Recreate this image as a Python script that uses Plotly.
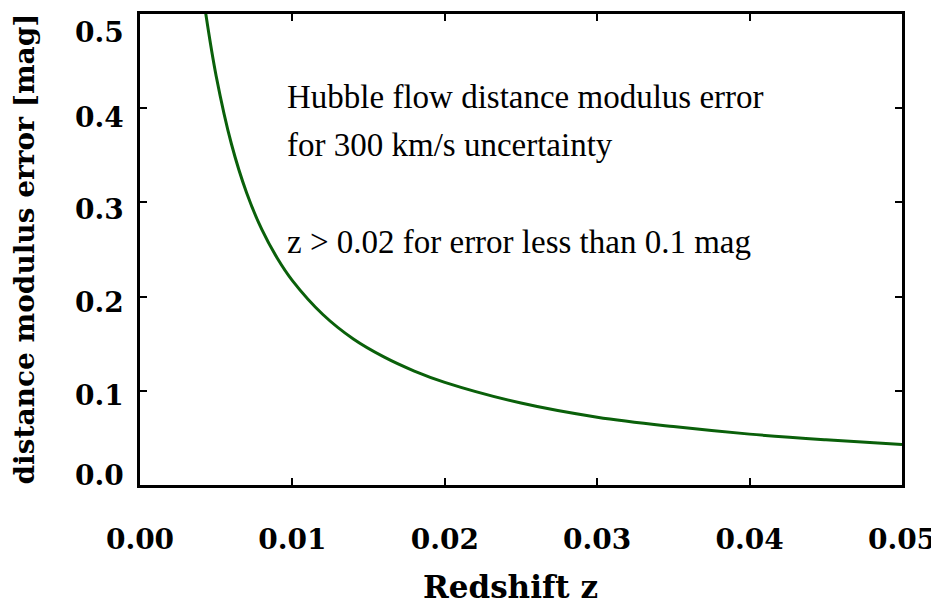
import plotly.graph_objects as go

# Hubble-flow distance modulus error versus redshift (300 km/s peculiar velocity)
redshift = [0.0043, 0.0050, 0.0060, 0.0070, 0.0080, 0.0090, 0.0100, 0.0120,
            0.0140, 0.0160, 0.0180, 0.0200, 0.0250, 0.0300, 0.0350, 0.0400,
            0.0450, 0.0500]
mu_error = [0.502, 0.434, 0.362, 0.310, 0.271, 0.241, 0.217, 0.181,
            0.155, 0.136, 0.121, 0.109, 0.087, 0.072, 0.062, 0.054,
            0.048, 0.043]

x_ticks = [0.00, 0.01, 0.02, 0.03, 0.04, 0.05]
x_tick_text = ["0.00", "0.01", "0.02", "0.03", "0.04", "0.05"]
y_ticks = [0.0, 0.1, 0.2, 0.3, 0.4, 0.5]
y_tick_text = ["0.0", "0.1", "0.2", "0.3", "0.4", "0.5"]

note_lines = [
    ("Hubble flow distance modulus error", 0.412),
    ("for 300 km/s uncertainty", 0.361),
    ("z > 0.02 for error less than 0.1 mag", 0.258),
]

label_font = "DejaVu Serif"
note_font = "Liberation Serif"
tick_font = dict(family=label_font, size=28, color="black", weight="bold")

# vertical nudges (px) keeping the end labels inside the frame height
y_label_shift = [10, -5, -6, -7, -9, -18]

fig = go.Figure()
fig.add_trace(go.Scatter(
    x=redshift, y=mu_error, mode="lines",
    line=dict(color="#0a600a", width=3, shape="spline", smoothing=1.0),
    showlegend=False, hoverinfo="skip", cliponaxis=True,
))

axis_common = dict(
    showline=True, linecolor="black", linewidth=3, mirror="ticks",
    ticks="inside", ticklen=7, tickwidth=2, tickcolor="black",
    showgrid=False, zeroline=False, ticklabeloverflow="allow",
    automargin=False, tickfont=tick_font,
)

fig.update_xaxes(range=[0, 0.05], tickvals=x_ticks, ticktext=x_tick_text,
                 ticklabelstandoff=27, **axis_common)
fig.update_yaxes(range=[0, 0.5], tickvals=y_ticks, showticklabels=False,
                 **axis_common)

for val, txt, dy in zip(y_ticks, y_tick_text, y_label_shift):
    fig.add_annotation(x=0, y=val, xref="paper", yref="y", text=txt,
                       showarrow=False, xanchor="right", yanchor="middle",
                       xshift=-14, yshift=dy, font=tick_font)

for text, yv in note_lines:
    fig.add_annotation(x=0.0095, y=yv, xref="x", yref="y", text=text,
                       showarrow=False, xanchor="left", yanchor="middle",
                       font=dict(family=note_font, size=33, color="black"))

fig.add_annotation(x=0.486, y=-0.2166, xref="paper", yref="paper",
                   text="Redshift z", showarrow=False,
                   xanchor="center", yanchor="middle",
                   font=dict(family=label_font, size=31, color="black", weight="bold"))
fig.add_annotation(x=-0.1522, y=0.5, xref="paper", yref="paper",
                   text="distance modulus error [mag]", showarrow=False,
                   textangle=-90, xanchor="center", yanchor="middle",
                   font=dict(family=label_font, size=28, color="black", weight="bold"))

fig.update_layout(
    width=931, height=609,
    margin=dict(l=140, r=29, t=14, b=124, autoexpand=False),
    paper_bgcolor="white", plot_bgcolor="white",
)

fig.write_html("out.html")
